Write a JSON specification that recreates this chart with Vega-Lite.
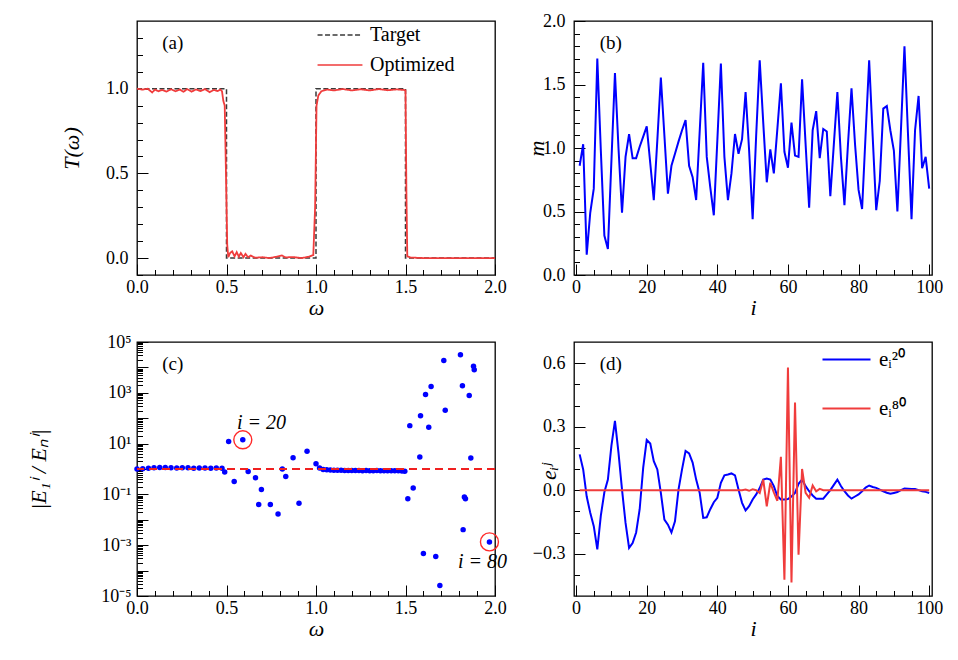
{
  "$schema": "https://vega.github.io/schema/vega-lite/v6.json",
  "background": "white",
  "padding": {"left": 26, "top": 11, "right": 5, "bottom": 5},
  "config": {
    "font": "Liberation Serif",
    "view": {"stroke": "black", "strokeWidth": 1.3},
    "axis": {"domain": false, "grid": false, "labelFlush": false, "tickColor": "black", "tickWidth": 1, "labelColor": "black", "titleColor": "black", "labelFont": "Liberation Serif", "labelFontSize": 18, "titleFont": "Liberation Serif", "titleFontSize": 22, "titleFontWeight": "normal"},
    "legend": {"labelFont": "Liberation Serif", "labelColor": "black"},
    "text": {"font": "Liberation Serif", "color": "black"}
  },
  "resolve": {"scale": {"color": "independent", "strokeDash": "independent"}, "legend": {"color": "independent", "strokeDash": "independent"}},
  "datasets": {
    "tgt": [
      {"w": 0, "T": 1, "k": 0, "s": "Target"}, {"w": 0.5, "T": 1, "k": 1, "s": "Target"}, {"w": 0.5, "T": 0, "k": 2, "s": "Target"}, {"w": 1.0, "T": 0, "k": 3, "s": "Target"},
      {"w": 1.0, "T": 1, "k": 4, "s": "Target"}, {"w": 1.5, "T": 1, "k": 5, "s": "Target"}, {"w": 1.5, "T": 0, "k": 6, "s": "Target"}, {"w": 2.0, "T": 0, "k": 7, "s": "Target"}
    ],
    "opt": [
      {"w": 0, "T": 1.0, "s": "Optimized"}, {"w": 0.03, "T": 0.995, "s": "Optimized"}, {"w": 0.06, "T": 1.0, "s": "Optimized"}, {"w": 0.085, "T": 0.978, "s": "Optimized"},
      {"w": 0.1, "T": 0.995, "s": "Optimized"}, {"w": 0.12, "T": 0.985, "s": "Optimized"}, {"w": 0.14, "T": 0.993, "s": "Optimized"}, {"w": 0.165, "T": 0.983, "s": "Optimized"},
      {"w": 0.19, "T": 0.997, "s": "Optimized"}, {"w": 0.215, "T": 0.985, "s": "Optimized"}, {"w": 0.24, "T": 0.995, "s": "Optimized"}, {"w": 0.26, "T": 0.982, "s": "Optimized"},
      {"w": 0.28, "T": 0.998, "s": "Optimized"}, {"w": 0.305, "T": 0.983, "s": "Optimized"}, {"w": 0.33, "T": 0.996, "s": "Optimized"}, {"w": 0.355, "T": 0.986, "s": "Optimized"},
      {"w": 0.38, "T": 0.998, "s": "Optimized"}, {"w": 0.405, "T": 0.98, "s": "Optimized"}, {"w": 0.43, "T": 0.993, "s": "Optimized"}, {"w": 0.45, "T": 0.986, "s": "Optimized"},
      {"w": 0.465, "T": 0.995, "s": "Optimized"}, {"w": 0.475, "T": 0.985, "s": "Optimized"}, {"w": 0.482, "T": 0.93, "s": "Optimized"}, {"w": 0.49, "T": 0.9, "s": "Optimized"},
      {"w": 0.497, "T": 0.5, "s": "Optimized"}, {"w": 0.504, "T": 0.08, "s": "Optimized"}, {"w": 0.51, "T": 0.005, "s": "Optimized"}, {"w": 0.52, "T": 0.03, "s": "Optimized"},
      {"w": 0.532, "T": 0.04, "s": "Optimized"}, {"w": 0.545, "T": 0.01, "s": "Optimized"}, {"w": 0.557, "T": 0.035, "s": "Optimized"}, {"w": 0.569, "T": 0.008, "s": "Optimized"},
      {"w": 0.58, "T": 0.03, "s": "Optimized"}, {"w": 0.595, "T": 0.005, "s": "Optimized"}, {"w": 0.606, "T": 0.025, "s": "Optimized"}, {"w": 0.62, "T": 0.005, "s": "Optimized"},
      {"w": 0.635, "T": 0.015, "s": "Optimized"}, {"w": 0.66, "T": 0.002, "s": "Optimized"}, {"w": 0.7, "T": 0.005, "s": "Optimized"}, {"w": 0.74, "T": 0.0, "s": "Optimized"},
      {"w": 0.78, "T": 0.008, "s": "Optimized"}, {"w": 0.81, "T": 0.015, "s": "Optimized"}, {"w": 0.83, "T": 0.004, "s": "Optimized"}, {"w": 0.87, "T": 0.006, "s": "Optimized"},
      {"w": 0.92, "T": 0.0, "s": "Optimized"}, {"w": 0.96, "T": 0.008, "s": "Optimized"}, {"w": 0.985, "T": 0.018, "s": "Optimized"}, {"w": 0.995, "T": 0.3, "s": "Optimized"},
      {"w": 1.003, "T": 0.9, "s": "Optimized"}, {"w": 1.013, "T": 0.96, "s": "Optimized"}, {"w": 1.03, "T": 0.985, "s": "Optimized"}, {"w": 1.06, "T": 0.995, "s": "Optimized"},
      {"w": 1.1, "T": 0.99, "s": "Optimized"}, {"w": 1.15, "T": 0.998, "s": "Optimized"}, {"w": 1.2, "T": 0.99, "s": "Optimized"}, {"w": 1.25, "T": 0.997, "s": "Optimized"},
      {"w": 1.3, "T": 0.99, "s": "Optimized"}, {"w": 1.35, "T": 0.998, "s": "Optimized"}, {"w": 1.4, "T": 0.991, "s": "Optimized"}, {"w": 1.45, "T": 0.996, "s": "Optimized"},
      {"w": 1.49, "T": 0.993, "s": "Optimized"}, {"w": 1.5, "T": 0.99, "s": "Optimized"}, {"w": 1.505, "T": 0.4, "s": "Optimized"}, {"w": 1.51, "T": 0.01, "s": "Optimized"},
      {"w": 1.53, "T": 0.003, "s": "Optimized"}, {"w": 1.6, "T": 0.0, "s": "Optimized"}, {"w": 2.0, "T": 0.0, "s": "Optimized"}
    ],
    "labA": [{"w": 0.2, "T": 1.273, "t": "(a)"}],
    "mval": [
      {"i": 1, "m": 0.86}, {"i": 2, "m": 1.03}, {"i": 3, "m": 0.16}, {"i": 4, "m": 0.49}, {"i": 5, "m": 0.68}, {"i": 6, "m": 1.705}, {"i": 7, "m": 0.98}, {"i": 8, "m": 0.31}, {"i": 9, "m": 0.205}, {"i": 10, "m": 0.9},
      {"i": 11, "m": 1.59}, {"i": 12, "m": 1.0}, {"i": 13, "m": 0.49}, {"i": 14, "m": 0.93}, {"i": 15, "m": 1.11}, {"i": 16, "m": 0.92}, {"i": 17, "m": 0.92}, {"i": 18, "m": 1.01}, {"i": 19, "m": 1.09}, {"i": 20, "m": 1.17},
      {"i": 21, "m": 0.88}, {"i": 22, "m": 0.59}, {"i": 23, "m": 1.06}, {"i": 24, "m": 1.555}, {"i": 25, "m": 1.1}, {"i": 26, "m": 0.64}, {"i": 27, "m": 0.86}, {"i": 28, "m": 0.955}, {"i": 29, "m": 1.05}, {"i": 30, "m": 1.14},
      {"i": 31, "m": 1.22}, {"i": 32, "m": 0.86}, {"i": 33, "m": 0.77}, {"i": 34, "m": 0.59}, {"i": 35, "m": 1.13}, {"i": 36, "m": 1.67}, {"i": 37, "m": 0.93}, {"i": 38, "m": 0.69}, {"i": 39, "m": 0.47}, {"i": 40, "m": 1.06},
      {"i": 41, "m": 1.665}, {"i": 42, "m": 0.93}, {"i": 43, "m": 0.59}, {"i": 44, "m": 0.8}, {"i": 45, "m": 1.11}, {"i": 46, "m": 0.955}, {"i": 47, "m": 1.07}, {"i": 48, "m": 1.44}, {"i": 49, "m": 0.98}, {"i": 50, "m": 0.44},
      {"i": 51, "m": 1.1}, {"i": 52, "m": 1.69}, {"i": 53, "m": 1.2}, {"i": 54, "m": 0.73}, {"i": 55, "m": 0.99}, {"i": 56, "m": 0.8}, {"i": 57, "m": 1.15}, {"i": 58, "m": 1.51}, {"i": 59, "m": 0.97}, {"i": 60, "m": 0.845},
      {"i": 61, "m": 1.2}, {"i": 62, "m": 0.94}, {"i": 63, "m": 0.93}, {"i": 64, "m": 1.54}, {"i": 65, "m": 1.03}, {"i": 66, "m": 0.53}, {"i": 67, "m": 1.14}, {"i": 68, "m": 1.29}, {"i": 69, "m": 0.92}, {"i": 70, "m": 1.15},
      {"i": 71, "m": 1.13}, {"i": 72, "m": 0.62}, {"i": 73, "m": 1.03}, {"i": 74, "m": 1.44}, {"i": 75, "m": 0.93}, {"i": 76, "m": 0.55}, {"i": 77, "m": 1.03}, {"i": 78, "m": 1.47}, {"i": 79, "m": 1.03}, {"i": 80, "m": 0.67},
      {"i": 81, "m": 0.52}, {"i": 82, "m": 1.11}, {"i": 83, "m": 1.69}, {"i": 84, "m": 1.09}, {"i": 85, "m": 0.51}, {"i": 86, "m": 0.74}, {"i": 87, "m": 1.31}, {"i": 88, "m": 1.33}, {"i": 89, "m": 1.14}, {"i": 90, "m": 0.98},
      {"i": 91, "m": 0.5}, {"i": 92, "m": 1.14}, {"i": 93, "m": 1.8}, {"i": 94, "m": 1.11}, {"i": 95, "m": 0.44}, {"i": 96, "m": 1.14}, {"i": 97, "m": 1.41}, {"i": 98, "m": 0.84}, {"i": 99, "m": 0.93}, {"i": 100, "m": 0.68}
    ],
    "labB": [{"i": 9.8, "m": 1.83, "t": "(b)"}],
    "ratio": [
      {"w": 0.0, "r": 1.0}, {"w": 0.032, "r": 1.02}, {"w": 0.064, "r": 1.07}, {"w": 0.095, "r": 1.12}, {"w": 0.127, "r": 1.15}, {"w": 0.158, "r": 1.14}, {"w": 0.19, "r": 1.12}, {"w": 0.222, "r": 1.1},
      {"w": 0.253, "r": 1.12}, {"w": 0.285, "r": 1.12}, {"w": 0.317, "r": 1.07}, {"w": 0.348, "r": 1.1}, {"w": 0.38, "r": 1.1}, {"w": 0.412, "r": 1.08}, {"w": 0.443, "r": 1.1}, {"w": 0.475, "r": 1.06},
      {"w": 0.49, "r": 0.76}, {"w": 0.512, "r": 12}, {"w": 0.543, "r": 0.32}, {"w": 0.591, "r": 14.1}, {"w": 0.621, "r": 0.8}, {"w": 0.662, "r": 0.45}, {"w": 0.68, "r": 0.04}, {"w": 0.695, "r": 0.155},
      {"w": 0.745, "r": 0.04}, {"w": 0.788, "r": 0.017}, {"w": 0.812, "r": 1.0}, {"w": 0.831, "r": 0.51}, {"w": 0.872, "r": 2.8}, {"w": 0.905, "r": 0.045}, {"w": 0.95, "r": 5.0}, {"w": 1.0, "r": 1.6},
      {"w": 1.02, "r": 1.1}, {"w": 1.04, "r": 0.95}, {"w": 1.06, "r": 0.93}, {"w": 1.08, "r": 0.92}, {"w": 1.1, "r": 0.9}, {"w": 1.12, "r": 0.9}, {"w": 1.14, "r": 0.89}, {"w": 1.16, "r": 0.88},
      {"w": 1.18, "r": 0.88}, {"w": 1.2, "r": 0.87}, {"w": 1.22, "r": 0.88}, {"w": 1.24, "r": 0.87}, {"w": 1.26, "r": 0.86}, {"w": 1.28, "r": 0.87}, {"w": 1.3, "r": 0.86}, {"w": 1.32, "r": 0.86},
      {"w": 1.34, "r": 0.87}, {"w": 1.36, "r": 0.86}, {"w": 1.38, "r": 0.85}, {"w": 1.4, "r": 0.86}, {"w": 1.42, "r": 0.85}, {"w": 1.44, "r": 0.85}, {"w": 1.46, "r": 0.86}, {"w": 1.48, "r": 0.84},
      {"w": 1.496, "r": 0.81}, {"w": 1.513, "r": 0.068}, {"w": 1.524, "r": 51}, {"w": 1.543, "r": 0.18}, {"w": 1.58, "r": 2.95}, {"w": 1.584, "r": 126}, {"w": 1.6, "r": 0.00047}, {"w": 1.612, "r": 850},
      {"w": 1.63, "r": 44}, {"w": 1.643, "r": 1780}, {"w": 1.669, "r": 0.00036}, {"w": 1.692, "r": 0.000026}, {"w": 1.714, "r": 18600}, {"w": 1.722, "r": 204}, {"w": 1.807, "r": 31600}, {"w": 1.818, "r": 1900},
      {"w": 1.822, "r": 0.0041}, {"w": 1.829, "r": 0.079}, {"w": 1.835, "r": 0.068}, {"w": 1.856, "r": 776}, {"w": 1.865, "r": 2.7}, {"w": 1.88, "r": 11000}, {"w": 1.884, "r": 8100}, {"w": 1.969, "r": 0.00135}
    ],
    "circ": [{"w": 0.591, "r": 14.1}, {"w": 1.969, "r": 0.00135}],
    "annC": [{"w": 0.696, "r": 66, "t": "i = 20"}, {"w": 1.93, "r": 0.00021, "t": "i = 80"}],
    "labC": [{"w": 0.2, "r": 13200, "t": "(c)"}],
    "e20": [
      {"i": 1, "e": 0.169}, {"i": 2, "e": 0.098}, {"i": 3, "e": -0.03}, {"i": 4, "e": -0.107}, {"i": 5, "e": -0.17}, {"i": 6, "e": -0.28}, {"i": 7, "e": -0.12}, {"i": 8, "e": -0.01}, {"i": 9, "e": 0.05}, {"i": 10, "e": 0.21},
      {"i": 11, "e": 0.327}, {"i": 12, "e": 0.177}, {"i": 13, "e": 0.003}, {"i": 14, "e": -0.155}, {"i": 15, "e": -0.273}, {"i": 16, "e": -0.25}, {"i": 17, "e": -0.2}, {"i": 18, "e": -0.09}, {"i": 19, "e": 0.106}, {"i": 20, "e": 0.237},
      {"i": 21, "e": 0.22}, {"i": 22, "e": 0.137}, {"i": 23, "e": 0.098}, {"i": 24, "e": -0.013}, {"i": 25, "e": -0.139}, {"i": 26, "e": -0.163}, {"i": 27, "e": -0.2}, {"i": 28, "e": -0.147}, {"i": 29, "e": 0.003}, {"i": 30, "e": 0.098},
      {"i": 31, "e": 0.185}, {"i": 32, "e": 0.174}, {"i": 33, "e": 0.13}, {"i": 34, "e": 0.05}, {"i": 35, "e": -0.013}, {"i": 36, "e": -0.131}, {"i": 37, "e": -0.128}, {"i": 38, "e": -0.09}, {"i": 39, "e": -0.057}, {"i": 40, "e": -0.036},
      {"i": 41, "e": 0.035}, {"i": 42, "e": 0.07}, {"i": 43, "e": 0.074}, {"i": 44, "e": 0.079}, {"i": 45, "e": 0.07}, {"i": 46, "e": 0.003}, {"i": 47, "e": -0.06}, {"i": 48, "e": -0.096}, {"i": 49, "e": -0.076}, {"i": 50, "e": -0.044},
      {"i": 51, "e": -0.02}, {"i": 52, "e": 0.01}, {"i": 53, "e": 0.05}, {"i": 54, "e": 0.055}, {"i": 55, "e": 0.05}, {"i": 56, "e": 0.019}, {"i": 57, "e": -0.028}, {"i": 58, "e": -0.044}, {"i": 59, "e": -0.044}, {"i": 60, "e": -0.042},
      {"i": 61, "e": -0.03}, {"i": 62, "e": -0.013}, {"i": 63, "e": 0.03}, {"i": 64, "e": 0.05}, {"i": 65, "e": 0.019}, {"i": 66, "e": -0.005}, {"i": 67, "e": -0.025}, {"i": 68, "e": -0.04}, {"i": 69, "e": -0.04}, {"i": 70, "e": -0.04},
      {"i": 71, "e": -0.02}, {"i": 72, "e": 0.0}, {"i": 73, "e": 0.025}, {"i": 74, "e": 0.05}, {"i": 75, "e": 0.02}, {"i": 76, "e": -0.005}, {"i": 77, "e": -0.025}, {"i": 78, "e": -0.04}, {"i": 79, "e": -0.03}, {"i": 80, "e": -0.02},
      {"i": 81, "e": -0.005}, {"i": 82, "e": 0.012}, {"i": 83, "e": 0.022}, {"i": 84, "e": 0.015}, {"i": 85, "e": 0.011}, {"i": 86, "e": 0.003}, {"i": 87, "e": -0.005}, {"i": 88, "e": -0.012}, {"i": 89, "e": -0.017}, {"i": 90, "e": -0.013},
      {"i": 91, "e": -0.009}, {"i": 92, "e": 0.0}, {"i": 93, "e": 0.008}, {"i": 94, "e": 0.007}, {"i": 95, "e": 0.006}, {"i": 96, "e": 0.006}, {"i": 97, "e": 0.0}, {"i": 98, "e": -0.005}, {"i": 99, "e": -0.008}, {"i": 100, "e": -0.013}
    ],
    "e80": [
      {"i": 1, "e": 0}, {"i": 2, "e": 0}, {"i": 3, "e": 0}, {"i": 4, "e": 0}, {"i": 5, "e": 0}, {"i": 6, "e": 0}, {"i": 7, "e": 0}, {"i": 8, "e": 0}, {"i": 9, "e": 0}, {"i": 10, "e": 0},
      {"i": 11, "e": 0}, {"i": 12, "e": 0}, {"i": 13, "e": 0}, {"i": 14, "e": 0}, {"i": 15, "e": 0}, {"i": 16, "e": 0}, {"i": 17, "e": 0}, {"i": 18, "e": 0}, {"i": 19, "e": 0}, {"i": 20, "e": 0},
      {"i": 21, "e": 0}, {"i": 22, "e": 0}, {"i": 23, "e": 0}, {"i": 24, "e": 0}, {"i": 25, "e": 0}, {"i": 26, "e": 0}, {"i": 27, "e": 0}, {"i": 28, "e": 0}, {"i": 29, "e": 0}, {"i": 30, "e": 0},
      {"i": 31, "e": 0}, {"i": 32, "e": 0}, {"i": 33, "e": 0}, {"i": 34, "e": 0}, {"i": 35, "e": 0}, {"i": 36, "e": 0}, {"i": 37, "e": 0}, {"i": 38, "e": 0}, {"i": 39, "e": 0}, {"i": 40, "e": 0},
      {"i": 41, "e": 0}, {"i": 42, "e": 0}, {"i": 43, "e": 0}, {"i": 44, "e": 0}, {"i": 45, "e": 0}, {"i": 46, "e": 0}, {"i": 47, "e": 0}, {"i": 48, "e": 0.003}, {"i": 49, "e": -0.003}, {"i": 50, "e": 0.004},
      {"i": 51, "e": 0.0}, {"i": 52, "e": -0.013}, {"i": 53, "e": 0.05}, {"i": 54, "e": -0.076}, {"i": 55, "e": 0.035}, {"i": 56, "e": -0.01}, {"i": 57, "e": -0.05}, {"i": 58, "e": 0.158}, {"i": 59, "e": -0.423}, {"i": 60, "e": 0.58},
      {"i": 61, "e": -0.436}, {"i": 62, "e": 0.414}, {"i": 63, "e": -0.305}, {"i": 64, "e": 0.1}, {"i": 65, "e": -0.013}, {"i": 66, "e": -0.036}, {"i": 67, "e": 0.022}, {"i": 68, "e": -0.005}, {"i": 69, "e": 0.006}, {"i": 70, "e": 0},
      {"i": 71, "e": 0}, {"i": 72, "e": 0}, {"i": 73, "e": 0}, {"i": 74, "e": 0}, {"i": 75, "e": 0}, {"i": 76, "e": 0}, {"i": 77, "e": 0}, {"i": 78, "e": 0}, {"i": 79, "e": 0}, {"i": 80, "e": 0},
      {"i": 81, "e": 0}, {"i": 82, "e": 0}, {"i": 83, "e": 0}, {"i": 84, "e": 0}, {"i": 85, "e": 0}, {"i": 86, "e": 0}, {"i": 87, "e": 0}, {"i": 88, "e": 0}, {"i": 89, "e": 0}, {"i": 90, "e": 0},
      {"i": 91, "e": 0}, {"i": 92, "e": 0}, {"i": 93, "e": 0}, {"i": 94, "e": 0}, {"i": 95, "e": 0}, {"i": 96, "e": 0}, {"i": 97, "e": 0}, {"i": 98, "e": 0}, {"i": 99, "e": 0}, {"i": 100, "e": 0}
    ],
    "labD": [{"i": 9.8, "e": 0.597, "t": "(d)"}]
  },
  "columns": 2,
  "spacing": {"row": 67, "column": 79},
  "bounds": "flush",
  "concat": [
    {
      "width": 358, "height": 254,
      "resolve": {"axis": {"x": "independent", "y": "independent"}},
      "layer": [
        {
          "data": {"name": "tgt"},
          "mark": {"type": "line", "strokeWidth": 1.5},
          "encoding": {
            "x": {"field": "w", "type": "quantitative", "scale": {"domain": [0, 2], "nice": false, "zero": false},
                  "axis": {"orient": "bottom", "values": [0, 0.5, 1, 1.5, 2], "format": ".1f", "tickSize": -11, "labelPadding": 14, "title": "ω", "titleFontStyle": "italic", "titleY": 32, "titleBaseline": "middle"}},
            "y": {"field": "T", "type": "quantitative", "scale": {"domain": [-0.1, 1.4], "nice": false, "zero": false},
                  "axis": {"orient": "left", "values": [0, 0.5, 1], "format": ".1f", "tickSize": -11, "labelPadding": 20, "title": "T(ω)", "titleFontStyle": "italic", "titleX": -66, "titleBaseline": "middle"}},
            "order": {"field": "k", "type": "quantitative"},
            "color": {"field": "s", "type": "nominal", "scale": {"domain": ["Target", "Optimized"], "range": ["#3a3a3a", "#f03c3c"]},
                      "legend": {"orient": "none", "legendX": 183, "legendY": -6, "title": null, "symbolType": "M-1.2,0H1.2", "symbolSize": 1400, "symbolStrokeWidth": 1.6, "symbolFillColor": "transparent", "rowPadding": 0, "labelOffset": 10, "labelFontSize": 20}},
            "strokeDash": {"field": "s", "type": "nominal", "scale": {"domain": ["Target", "Optimized"], "range": [[5, 2.5], [1, 0]]},
                      "legend": {"orient": "none", "legendX": 183, "legendY": -6, "title": null, "symbolType": "M-1.2,0H1.2", "symbolSize": 1400, "symbolStrokeWidth": 1.6, "symbolFillColor": "transparent", "rowPadding": 0, "labelOffset": 10, "labelFontSize": 20}}
          }
        },
        {
          "data": {"name": "opt"},
          "mark": {"type": "line", "strokeWidth": 1.8},
          "encoding": {
            "x": {"field": "w", "type": "quantitative", "axis": null},
            "y": {"field": "T", "type": "quantitative", "axis": null},
            "color": {"field": "s", "type": "nominal"},
            "strokeDash": {"field": "s", "type": "nominal"}
          }
        },
        {
          "data": {"name": "labA"},
          "mark": {"type": "text", "fontSize": 19, "align": "center", "baseline": "middle"},
          "encoding": {
            "x": {"field": "w", "type": "quantitative", "axis": null},
            "y": {"field": "T", "type": "quantitative", "axis": null},
            "text": {"field": "t"}
          }
        },
        {
          "data": {"name": "labA"},
          "mark": {"type": "point", "opacity": 0},
          "encoding": {
            "x": {"field": "w", "type": "quantitative", "axis": {"orient": "bottom", "values": [0.1, 0.2, 0.3, 0.4, 0.6, 0.7, 0.8, 0.9, 1.1, 1.2, 1.3, 1.4, 1.6, 1.7, 1.8, 1.9], "tickSize": -5.5, "labels": false, "title": null}},
            "y": {"field": "T", "type": "quantitative", "axis": {"orient": "left", "values": [-0.1, 0.1, 0.2, 0.3, 0.4, 0.6, 0.7, 0.8, 0.9, 1.1, 1.2, 1.3], "tickSize": -5.5, "labels": false, "title": null}}
          }
        }
      ]
    },
    {
      "width": 358, "height": 254,
      "resolve": {"axis": {"x": "independent", "y": "independent"}},
      "layer": [
        {
          "data": {"name": "mval"},
          "mark": {"type": "line", "strokeWidth": 2, "color": "#0000ff"},
          "encoding": {
            "x": {"field": "i", "type": "quantitative", "scale": {"domain": [-0.6, 100.8], "nice": false, "zero": false},
                  "axis": {"orient": "bottom", "values": [0, 20, 40, 60, 80, 100], "tickSize": -11, "labelPadding": 14, "title": "i", "titleFontStyle": "italic", "titleY": 32, "titleBaseline": "middle"}},
            "y": {"field": "m", "type": "quantitative", "scale": {"domain": [0, 2], "nice": false, "zero": false},
                  "axis": {"orient": "left", "values": [0, 0.5, 1, 1.5, 2], "format": ".1f", "tickSize": -11, "labelPadding": 20, "title": "m", "titleFontStyle": "italic", "titleX": -38, "titleBaseline": "middle"}}
          }
        },
        {
          "data": {"name": "labB"},
          "mark": {"type": "text", "fontSize": 19, "align": "center", "baseline": "middle"},
          "encoding": {
            "x": {"field": "i", "type": "quantitative", "axis": null},
            "y": {"field": "m", "type": "quantitative", "axis": null},
            "text": {"field": "t"}
          }
        },
        {
          "data": {"name": "labB"},
          "mark": {"type": "point", "opacity": 0},
          "encoding": {
            "x": {"field": "i", "type": "quantitative", "axis": {"orient": "bottom", "values": [5, 10, 15, 25, 30, 35, 45, 50, 55, 65, 70, 75, 85, 90, 95], "tickSize": -5.5, "labels": false, "title": null}},
            "y": {"field": "m", "type": "quantitative", "axis": {"orient": "left", "values": [0.1, 0.2, 0.3, 0.4, 0.6, 0.7, 0.8, 0.9, 1.1, 1.2, 1.3, 1.4, 1.6, 1.7, 1.8, 1.9], "tickSize": -5.5, "labels": false, "title": null}}
          }
        }
      ]
    },
    {
      "width": 358, "height": 254,
      "resolve": {"axis": {"x": "independent", "y": "independent"}},
      "layer": [
        {
          "data": {"name": "ratio"},
          "mark": {"type": "point", "filled": true, "shape": "circle", "size": 30, "color": "#0000ff", "opacity": 1},
          "encoding": {
            "x": {"field": "w", "type": "quantitative", "scale": {"domain": [0, 2], "nice": false, "zero": false},
                  "axis": {"orient": "bottom", "values": [0, 0.5, 1, 1.5, 2], "format": ".1f", "tickSize": -11, "labelPadding": 14, "title": "ω", "titleFontStyle": "italic", "titleY": 32, "titleBaseline": "middle"}},
            "y": {"field": "r", "type": "quantitative", "scale": {"type": "log", "domain": [0.00001, 100000], "nice": false},
                  "axis": {"orient": "left", "values": [0.00001, 0.0001, 0.001, 0.01, 0.1, 1, 10, 100, 1000, 10000, 100000], "labelExpr": "['10⁻⁵','','10⁻³','','10⁻¹','','10¹','','10³','','10⁵'][round(log(datum.value)/LN10)+5]", "tickSize": -11, "labelPadding": 17, "title": "|E₁ⁱ / Eₙⁱ|", "titleFontStyle": "italic", "titleX": -99, "titleBaseline": "middle"}}
          }
        },
        {
          "data": {"name": "circ"},
          "mark": {"type": "point", "filled": false, "shape": "circle", "size": 324, "stroke": "#ff2a2a", "strokeWidth": 1.4, "opacity": 1},
          "encoding": {
            "x": {"field": "w", "type": "quantitative", "axis": null},
            "y": {"field": "r", "type": "quantitative", "axis": null}
          }
        },
        {
          "data": {"name": "circ"},
          "mark": {"type": "rule", "color": "#f02020", "strokeWidth": 2, "strokeDash": [8, 5]},
          "encoding": {"y": {"datum": 1, "type": "quantitative", "axis": null}}
        },
        {
          "data": {"name": "annC"},
          "mark": {"type": "text", "fontSize": 20, "fontStyle": "italic", "align": "center", "baseline": "middle"},
          "encoding": {
            "x": {"field": "w", "type": "quantitative", "axis": null},
            "y": {"field": "r", "type": "quantitative", "axis": null},
            "text": {"field": "t"}
          }
        },
        {
          "data": {"name": "labC"},
          "mark": {"type": "text", "fontSize": 19, "align": "center", "baseline": "middle"},
          "encoding": {
            "x": {"field": "w", "type": "quantitative", "axis": null},
            "y": {"field": "r", "type": "quantitative", "axis": null},
            "text": {"field": "t"}
          }
        },
        {
          "data": {"name": "labC"},
          "mark": {"type": "point", "opacity": 0},
          "encoding": {
            "x": {"field": "w", "type": "quantitative", "axis": {"orient": "bottom", "values": [0.1, 0.2, 0.3, 0.4, 0.6, 0.7, 0.8, 0.9, 1.1, 1.2, 1.3, 1.4, 1.6, 1.7, 1.8, 1.9], "tickSize": -5.5, "labels": false, "title": null}},
            "y": {"field": "r", "type": "quantitative", "axis": {"orient": "left", "values": [0.00002, 0.00003, 0.00004, 0.00005, 0.00006, 0.00007, 0.00008, 0.00009, 0.0002, 0.0003, 0.0004, 0.0005, 0.0006, 0.0007, 0.0008, 0.0009, 0.002, 0.003, 0.004, 0.005, 0.006, 0.007, 0.008, 0.009, 0.02, 0.03, 0.04, 0.05, 0.06, 0.07, 0.08, 0.09, 0.2, 0.3, 0.4, 0.5, 0.6, 0.7, 0.8, 0.9, 2, 3, 4, 5, 6, 7, 8, 9, 20, 30, 40, 50, 60, 70, 80, 90, 200, 300, 400, 500, 600, 700, 800, 900, 2000, 3000, 4000, 5000, 6000, 7000, 8000, 9000, 20000, 30000, 40000, 50000, 60000, 70000, 80000, 90000], "tickSize": -5.5, "labels": false, "title": null}}
          }
        }
      ]
    },
    {
      "width": 358, "height": 254,
      "resolve": {"axis": {"x": "independent", "y": "independent"}},
      "layer": [
        {
          "data": {"name": "e20"},
          "transform": [{"calculate": "'eᵢ²⁰'", "as": "s"}],
          "mark": {"type": "line", "strokeWidth": 2},
          "encoding": {
            "x": {"field": "i", "type": "quantitative", "scale": {"domain": [-0.6, 100.8], "nice": false, "zero": false},
                  "axis": {"orient": "bottom", "values": [0, 20, 40, 60, 80, 100], "tickSize": -11, "labelPadding": 14, "title": "i", "titleFontStyle": "italic", "titleY": 32, "titleBaseline": "middle"}},
            "y": {"field": "e", "type": "quantitative", "scale": {"domain": [-0.5, 0.7], "nice": false, "zero": false},
                  "axis": {"orient": "left", "values": [-0.3, 0, 0.3, 0.6], "format": ".1f", "tickSize": -11, "labelPadding": 20, "title": "eᵢʲ", "titleFontStyle": "italic", "titleX": -26, "titleY": 129, "titleBaseline": "middle"}},
            "color": {"field": "s", "type": "nominal", "scale": {"domain": ["eᵢ²⁰", "eᵢ⁸⁰"], "range": ["#0000ff", "#f03c3c"]},
                      "legend": {"orient": "none", "legendX": 241, "legendY": -14, "title": null, "symbolType": "M-0.787,0H0.787", "symbolSize": 3721, "symbolStrokeWidth": 2, "symbolFillColor": "transparent", "rowPadding": 7, "labelOffset": 1, "labelFontSize": 21}}
          }
        },
        {
          "data": {"name": "e80"},
          "transform": [{"calculate": "'eᵢ⁸⁰'", "as": "s"}],
          "mark": {"type": "line", "strokeWidth": 2},
          "encoding": {
            "x": {"field": "i", "type": "quantitative", "axis": null},
            "y": {"field": "e", "type": "quantitative", "axis": null},
            "color": {"field": "s", "type": "nominal"}
          }
        },
        {
          "data": {"name": "labD"},
          "mark": {"type": "text", "fontSize": 19, "align": "center", "baseline": "middle"},
          "encoding": {
            "x": {"field": "i", "type": "quantitative", "axis": null},
            "y": {"field": "e", "type": "quantitative", "axis": null},
            "text": {"field": "t"}
          }
        },
        {
          "data": {"name": "labD"},
          "mark": {"type": "point", "opacity": 0},
          "encoding": {
            "x": {"field": "i", "type": "quantitative", "axis": {"orient": "bottom", "values": [5, 10, 15, 25, 30, 35, 45, 50, 55, 65, 70, 75, 85, 90, 95], "tickSize": -5.5, "labels": false, "title": null}},
            "y": {"field": "e", "type": "quantitative", "axis": {"orient": "left", "values": [-0.4, -0.2, -0.1, 0.1, 0.2, 0.4, 0.5], "tickSize": -5.5, "labels": false, "title": null}}
          }
        }
      ]
    }
  ]
}
